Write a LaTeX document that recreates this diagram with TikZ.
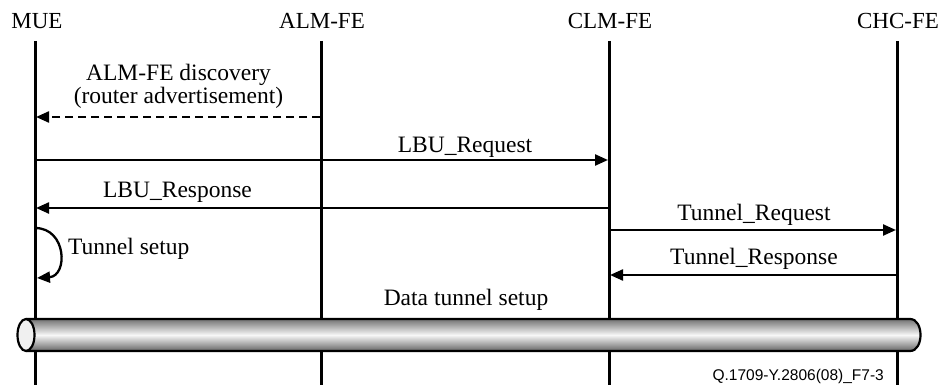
\documentclass[tikz,border=0pt]{standalone}
\usepackage{fontspec}
\setmainfont{Liberation Serif}
\newfontfamily\footfont{Liberation Sans}
\usetikzlibrary{arrows.meta}

\tikzset{
  entity/.style={font=\fontsize{23}{26}\selectfont, inner sep=0pt, anchor=base},
  msglabel/.style={font=\fontsize{23.5}{26}\selectfont, inner sep=0pt, anchor=base},
  lifeline/.style={line width=3pt, black},
  msg/.style={line width=2.3pt, black, -{Triangle[length=13pt,width=11pt]}},
  dashmsg/.style={msg, dash pattern=on 8pt off 5pt},
  tubeedge/.style={line width=2.2pt, black},
}

\begin{document}
\begin{tikzpicture}[x=1pt,y=-1pt]
\useasboundingbox (0,0) rectangle (941,385);

% entity names
\node[entity] (mue) at (37,29) {MUE};
\node[entity] (alm) at (322,29) {ALM-FE};
\node[entity] (clm) at (610,29) {CLM-FE};
\node[entity] (chc) at (898,29) {CHC-FE};

% lifelines
\coordinate (mueT) at (35,41);  \coordinate (mueB) at (35,385);
\coordinate (almT) at (321,41); \coordinate (almB) at (321,385);
\coordinate (clmT) at (609,41); \coordinate (clmB) at (609,385);
\coordinate (chcT) at (897,41); \coordinate (chcB) at (897,385);
\draw[lifeline] (mueT) -- (mueB);
\draw[lifeline] (almT) -- (almB);
\draw[lifeline] (clmT) -- (clmB);
\draw[lifeline] (chcT) -- (chcB);

% message end points on the lifelines
\coordinate (alm1) at (320,117); \coordinate (mue1) at (36,117);
\coordinate (mue2) at (35,160);  \coordinate (clm2) at (608,160);
\coordinate (clm3) at (609,208); \coordinate (mue3) at (36,208);
\coordinate (clm4) at (609,230); \coordinate (chc4) at (896,230);
\coordinate (chc5) at (897,275); \coordinate (clm5) at (610,275);
\coordinate (mue6a) at (35,228); \coordinate (mue6b) at (37,278);

% messages
\draw[dashmsg] (alm1) -- (mue1);
\node[msglabel] (disc1) at (178.5,81) {ALM-FE discovery};
\node[msglabel] (disc2) at (178.5,103) {(router advertisement)};

\draw[msg] (mue2) -- (clm2);
\node[msglabel] (lbureq) at (465,152) {LBU\_Request};

\draw[msg] (clm3) -- (mue3);
\node[msglabel] (lburesp) at (177.5,197) {LBU\_Response};

\draw[msg] (clm4) -- (chc4);
\node[msglabel] (tunreq) at (754,220) {Tunnel\_Request};

\draw[msg] (chc5) -- (clm5);
\node[msglabel] (tunresp) at (754,264) {Tunnel\_Response};

% local tunnel setup at the MUE
\draw[msg] (mue6a) .. controls (67,228) and (68,276) .. (mue6b);
\node[msglabel, anchor=base west] (tunsetup) at (68,254) {Tunnel setup};

% data tunnel label
\node[msglabel] (datatun) at (466,305) {Data tunnel setup};

% data tunnel pipe (drawn with upward y so the shading runs top to bottom)
\begin{scope}[y=1pt]
  \shade[shading=axis, top color=black!55, bottom color=black!60, middle color=black!3]
    (26,-319) -- (910,-319) .. controls (924,-319) and (924,-351) .. (910,-351)
    -- (26,-351) -- cycle;
  \draw[tubeedge]
    (26,-319) -- (910,-319) .. controls (924,-319) and (924,-351) .. (910,-351)
    -- (26,-351);
  \coordinate (tubeL) at (26,-335);
  \draw[tubeedge, fill=black!6] (tubeL) ellipse [x radius=8.5, y radius=16];
\end{scope}

% figure reference
\node[inner sep=0pt, anchor=base east, font=\footfont\fontsize{15.5}{18}\selectfont]
  (figref) at (884,380) {Q.1709-Y.2806(08)\_F7-3};
\end{tikzpicture}
\end{document}
